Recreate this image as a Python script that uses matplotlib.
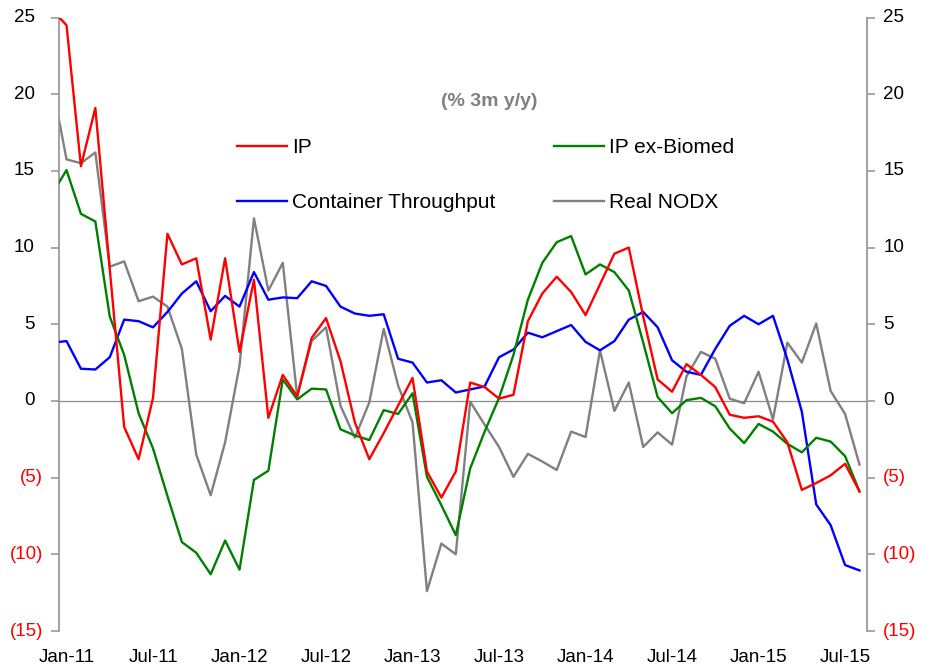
import numpy as np
import matplotlib
matplotlib.use("Agg")
import matplotlib.pyplot as plt

plt.rcParams['font.family'] = ['Liberation Sans', 'DejaVu Sans']

# Monthly series, Dec-10 .. Aug-15 (% 3m y/y)
months = ["Dec-10",
          "Jan-11", "Feb-11", "Mar-11", "Apr-11", "May-11", "Jun-11", "Jul-11", "Aug-11", "Sep-11", "Oct-11", "Nov-11", "Dec-11",
          "Jan-12", "Feb-12", "Mar-12", "Apr-12", "May-12", "Jun-12", "Jul-12", "Aug-12", "Sep-12", "Oct-12", "Nov-12", "Dec-12",
          "Jan-13", "Feb-13", "Mar-13", "Apr-13", "May-13", "Jun-13", "Jul-13", "Aug-13", "Sep-13", "Oct-13", "Nov-13", "Dec-13",
          "Jan-14", "Feb-14", "Mar-14", "Apr-14", "May-14", "Jun-14", "Jul-14", "Aug-14", "Sep-14", "Oct-14", "Nov-14", "Dec-14",
          "Jan-15", "Feb-15", "Mar-15", "Apr-15", "May-15", "Jun-15", "Jul-15", "Aug-15"]

ip = [25.5,
      24.5, 15.3, 19.1, 8.6, -1.7, -3.8, 0.2, 10.9, 8.9, 9.3, 4.0, 9.3,
      3.2, 7.9, -1.1, 1.7, 0.3, 4.1, 5.4, 2.6, -1.4, -3.8, -2.1, -0.3,
      1.5, -4.6, -6.3, -4.6, 1.2, 0.9, 0.15, 0.4, 5.2, 7.0, 8.1, 7.1,
      5.6, 7.6, 9.6, 10.0, 5.5, 1.4, 0.6, 2.4, 1.7, 0.9, -0.9, -1.1,
      -1.0, -1.35, -2.7, -5.8, -5.35, -4.85, -4.1, -5.9]

ip_ex_biomed = [13.5,
                15.05, 12.2, 11.7, 5.5, 3.0, -0.8, -3.1, -6.2, -9.2, -9.9, -11.3, -9.1,
                -11.0, -5.15, -4.55, 1.4, 0.1, 0.8, 0.75, -1.85, -2.25, -2.55, -0.6, -0.85,
                0.5, -4.95, -6.8, -8.75, -4.4, -2.0, 0.2, 3.0, 6.6, 9.0, 10.35, 10.75,
                8.25, 8.9, 8.4, 7.2, 3.8, 0.25, -0.8, 0.05, 0.2, -0.35, -1.8, -2.75,
                -1.5, -2.0, -2.8, -3.35, -2.4, -2.65, -3.6, -5.9]

container = [3.8,
             3.9, 2.1, 2.05, 2.85, 5.3, 5.2, 4.8, 5.8, 7.0, 7.8, 5.85, 6.85,
             6.15, 8.4, 6.6, 6.75, 6.7, 7.8, 7.5, 6.15, 5.7, 5.55, 5.65, 2.75,
             2.5, 1.2, 1.35, 0.55, 0.75, 0.95, 2.85, 3.35, 4.45, 4.15, 4.55, 4.95,
             3.85, 3.3, 3.9, 5.3, 5.8, 4.8, 2.65, 1.9, 1.7, 3.4, 4.9, 5.55,
             5.0, 5.55, 2.7, -0.7, -6.75, -8.1, -10.7, -11.05]

real_nodx = [20.7,
             15.75, 15.5, 16.2, 8.75, 9.1, 6.5, 6.8, 6.15, 3.4, -3.5, -6.15, -2.7,
             2.3, 11.9, 7.2, 9.0, 0.3, 3.9, 4.8, -0.3, -2.4, -0.1, 4.7, 1.0,
             -1.4, -12.4, -9.3, -10.0, -0.05, -1.55, -3.0, -4.95, -3.45, -3.95, -4.5, -2.0,
             -2.35, 3.3, -0.65, 1.2, -3.0, -2.05, -2.85, 1.6, 3.2, 2.75, 0.15, -0.15,
             1.9, -1.2, 3.8, 2.5, 5.05, 0.65, -0.85, -4.15]

xtick_labels = ["Jan-11", "Jul-11", "Jan-12", "Jul-12", "Jan-13",
                "Jul-13", "Jan-14", "Jul-14", "Jan-15", "Jul-15"]
ytick_values = [25, 20, 15, 10, 5, 0, -5, -10, -15]

# month index: Jan-11 = 0
x = np.arange(len(months)) - 1

W, H = 928, 670
fig = plt.figure(figsize=(W / 100, H / 100), dpi=100)
ax = fig.add_axes([59.3 / W, 1 - 631 / H, (866.7 - 59.3) / W, (631 - 17.5) / H])

axis_gray = "#9a9a9a"
ax.axhline(0, color="#8c8c8c", lw=0.9, zorder=1)

ax.plot(x, real_nodx, color="#808080", lw=1.7, zorder=2, label="Real NODX")
ax.plot(x, container, color="#0000ff", lw=1.7, zorder=3, label="Container Throughput")
ax.plot(x, ip_ex_biomed, color="#008000", lw=1.7, zorder=4, label="IP ex-Biomed")
ax.plot(x, ip, color="#ff0000", lw=1.7, zorder=5, label="IP")

ax.set_xlim(-0.5, len(months) - 1.5)
ax.set_ylim(-15, 25)

# spines
for side in ("top", "bottom"):
    ax.spines[side].set_visible(False)
for side in ("left", "right"):
    ax.spines[side].set_color(axis_gray)
    ax.spines[side].set_linewidth(1.3)

# x ticks (labels only)
xt = [months.index(lab) - 1 for lab in xtick_labels]
ax.set_xticks(xt)
ax.set_xticklabels(xtick_labels, fontsize=13.5)
ax.tick_params(axis="x", length=0, pad=13)

# y ticks on both sides, labels drawn as text for accounting-style negatives
ax.set_yticks(ytick_values)
ax.yaxis.set_ticks_position("both")
ax.tick_params(axis="y", direction="out", length=6, width=1.2, color=axis_gray,
               labelleft=False, labelright=False)


def fmt(v):
    return f"({abs(v)})" if v < 0 else f"{v}"


for v in ytick_values:
    col = "#ff0000" if v < 0 else "black"
    dx = -16.3 if v < 0 else -24.3
    ax.annotate(fmt(v), xy=(0, v), xycoords=("axes fraction", "data"),
                xytext=(dx, 0), textcoords="offset pixels",
                ha="right", va="center", fontsize=13.5, color=col,
                annotation_clip=False)
    ax.annotate(fmt(v), xy=(1, v), xycoords=("axes fraction", "data"),
                xytext=(16.6, 0), textcoords="offset pixels",
                ha="left", va="center", fontsize=13.5, color=col,
                annotation_clip=False)

fig.text(489 / W, 1 - 102 / H, "(% 3m y/y)", ha="center", va="center",
         fontsize=14, fontweight="bold", color="#808080")

h = {ln.get_label(): ln for ln in ax.get_lines()}
order = ["IP", "Container Throughput", "IP ex-Biomed", "Real NODX"]
leg = fig.legend([h[k] for k in order], order, ncol=2, frameon=False,
                 loc="upper left", bbox_to_anchor=(237 / W, 1 - 138 / H),
                 borderpad=0, borderaxespad=0, fontsize=15,
                 handlelength=2.4, handletextpad=0.25, labelspacing=1.75,
                 columnspacing=2.8)

fig.savefig("out.png", dpi=100)
